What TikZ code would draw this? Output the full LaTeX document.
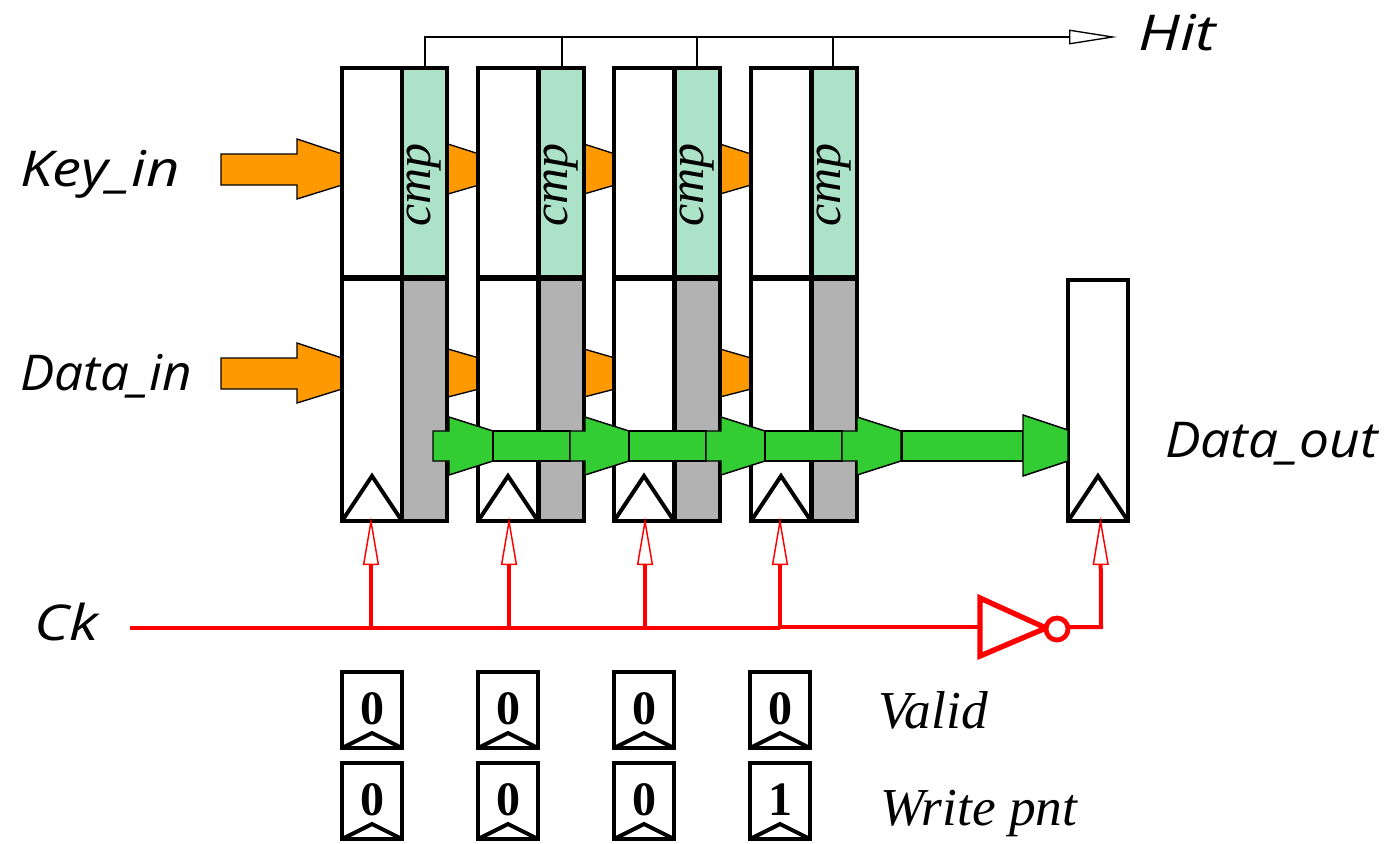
\documentclass[tikz,border=0pt]{standalone}
\usepackage{fontspec}
\usepackage{graphicx}
\setmainfont{Liberation Serif}
\newfontfamily\handfont{Open Sans}
\usetikzlibrary{arrows.meta}
\definecolor{cmpgreen}{RGB}{172,227,200}
\definecolor{reggray}{RGB}{178,178,178}
\definecolor{busorange}{RGB}{255,153,0}
\definecolor{busgreen}{RGB}{51,204,51}
\tikzset{
  regleft/.style={draw=black,line width=3pt,fill=white,minimum width=45pt,inner sep=0pt,outer sep=0pt},
  cmpbox/.style={draw=black,line width=3pt,fill=cmpgreen,minimum width=34pt,minimum height=157pt,inner sep=0pt,outer sep=0pt},
  graybox/.style={draw=black,line width=3pt,fill=reggray,minimum width=34pt,minimum height=181.5pt,inner sep=0pt,outer sep=0pt},
  flagbox/.style={draw=black,line width=3pt,fill=white,minimum width=45pt,minimum height=57pt,inner sep=0pt,outer sep=0pt},
  orangebus/.style={draw=black,line width=1pt,fill=busorange,line join=miter},
  greenbus/.style={draw=black,line width=1.1pt,fill=busgreen,line join=miter},
  clocktri/.style={draw=black,line width=3pt,line join=miter,line cap=butt},
  hitwire/.style={draw=black,line width=1.5pt},
  redwire/.style={draw=red,line width=3pt},
  redarrow/.style={redwire,-{Triangle[open,length=36pt,width=12pt,line width=1.1pt,fill=white]}},
  hitarrow/.style={hitwire,-{Triangle[open,length=36pt,width=11pt,line width=1pt,fill=white]}},
  handlabel/.style={font=\handfont\itshape\fontsize{37}{37}\selectfont,inner sep=0pt,anchor=base west},
  seriflabel/.style={font=\itshape\fontsize{40}{40}\selectfont,inner sep=0pt,anchor=base west},
  cmplabel/.style={font=\itshape\fontsize{37.5}{37.5}\selectfont,inner sep=0pt},
  digit/.style={font=\bfseries\fontsize{36}{36}\selectfont,inner sep=0pt},
}
\begin{document}
\begin{tikzpicture}[x=0.75pt,y=-0.75pt]
\useasboundingbox (0,0) rectangle (1388,843);
% orange buses behind registers
\draw[orangebus] (221,154) -- (297,154) -- (297,139) -- (342,154) -- (342,185) -- (297,199) -- (297,185) -- (221,185) -- cycle;
\draw[orangebus] (221,358) -- (297,358) -- (297,343) -- (342,358) -- (342,389) -- (297,403) -- (297,389) -- (221,389) -- cycle;
\foreach \x in {448,584,720}{
  \draw[orangebus] (\x,144) -- (\x+31,154) -- (\x+31,185) -- (\x,194) -- cycle;
  \draw[orangebus] (\x,349) -- (\x+31,358) -- (\x+31,389) -- (\x,397) -- cycle;
}
% registers
\foreach \n/\x/\y in {1/342/402,2/478/539,3/614/675,4/751/812}{
  \node[regleft,minimum height=157pt,anchor=north west] (k\n) at (\x,68) {};
  \node[regleft,minimum height=181.5pt,anchor=north west] (d\n) at (\x,279) {};
  \node[cmpbox,anchor=north west] (c\n) at (\y,68) {};
  \node[graybox,anchor=north west] (g\n) at (\y,279) {};
  \node[rotate=90,cmplabel] (t\n) at (\y+22,185) {cmp};
  \draw[clocktri] (\x,521) -- (\x+30,476) -- (\x+60,521);
}
\node[regleft,minimum height=181pt,anchor=north west] (out) at (1068,280) {};
\draw[clocktri] (1068,521) -- (1098,476) -- (1128,521);
% green bus
\draw[greenbus] (433,431) -- (449,431) -- (449,417) -- (493,431) -- (493,461) -- (449,475) -- (449,461) -- (433,461) -- cycle;
\foreach \x in {493,629,765}{
  \draw[greenbus] (\x,431) rectangle (\x+77,461);
  \draw[greenbus] (\x+77,431) -- (\x+92,431) -- (\x+92,417) -- (\x+136,431) -- (\x+136,461) -- (\x+92,475) -- (\x+92,461) -- (\x+77,461) -- cycle;
}
\draw[greenbus] (902,431) rectangle (1023,461);
\draw[greenbus] (1023,431) -- (1023,415) -- (1068,430) -- (1068,461) -- (1023,476) -- cycle;
% hit wires
\coordinate (hitend) at (1117,37);
\coordinate (h1) at (425,68);
\coordinate (hc) at (425,37);
\coordinate (h2) at (562,68);
\coordinate (h3) at (697,68);
\coordinate (h4) at (833,68);
\draw[hitarrow] (h1) -- (hc) -- (hitend);
\foreach \n in {2,3,4} \draw[hitwire] (h\n) -- (h\n |- hc);
% clock
\coordinate (ckstart) at (130,628);
\coordinate (ck4) at (780,628);
\coordinate (invin) at (980,627);
\coordinate (bubout) at (1069,627);
\coordinate (outcorner) at (1101,627);
\coordinate (outtip) at (1100.5,517);
\draw[redwire] (ckstart) -- (ck4);
\draw[redwire] (ck4 |- invin) -- (invin);
\foreach \x in {371,509,645,780}{
  \coordinate (tap) at (\x,628);
  \coordinate (tip) at (\x,517);
  \draw[redarrow] (tap) -- (tip);
}
\draw[redarrow] (bubout) -- (outcorner) -- (outtip);
\draw[red,line width=4pt,fill=white,line join=miter] (980,598) -- (1046,628) -- (980,656) -- cycle;
\node[circle,draw=red,line width=3.6pt,fill=white,minimum size=16.5pt,inner sep=0pt] (bubble) at (1057,629) {};
% flags
\foreach \n/\x/\v/\w in {1/342/0/0,2/478/0/0,3/614/0/0,4/750/0/1}{
  \node[flagbox,anchor=north west] (v\n) at (\x,672) {};
  \node[flagbox,anchor=north west] (w\n) at (\x,763) {};
  \draw[clocktri] (\x,748) -- (\x+30,733) -- (\x+60,748);
  \draw[clocktri] (\x,839) -- (\x+30,824) -- (\x+60,839);
  \node[digit] (vd\n) at (\x+30,709) {\v};
  \node[digit] (wd\n) at (\x+30,800) {\w};
}
% labels
\node[handlabel] (keyin) at (20,186) {\scalebox{1.18}[1]{Key\_in}};
\node[handlabel] (datain) at (20,390) {\scalebox{1.04}[1]{Data\_in}};
\node[handlabel] (dataout) at (1165,457) {\scalebox{1.08}[1]{Data\_out}};
\node[handlabel] (ck) at (34,640) {\scalebox{1.2}[1]{Ck}};
\node[handlabel] (hit) at (1138,50) {\scalebox{1.25}[1]{Hit}};
\node[seriflabel] (valid) at (878,728) {Valid};
\node[seriflabel] (wpnt) at (880,825) {Write pnt};
\end{tikzpicture}
\end{document}
